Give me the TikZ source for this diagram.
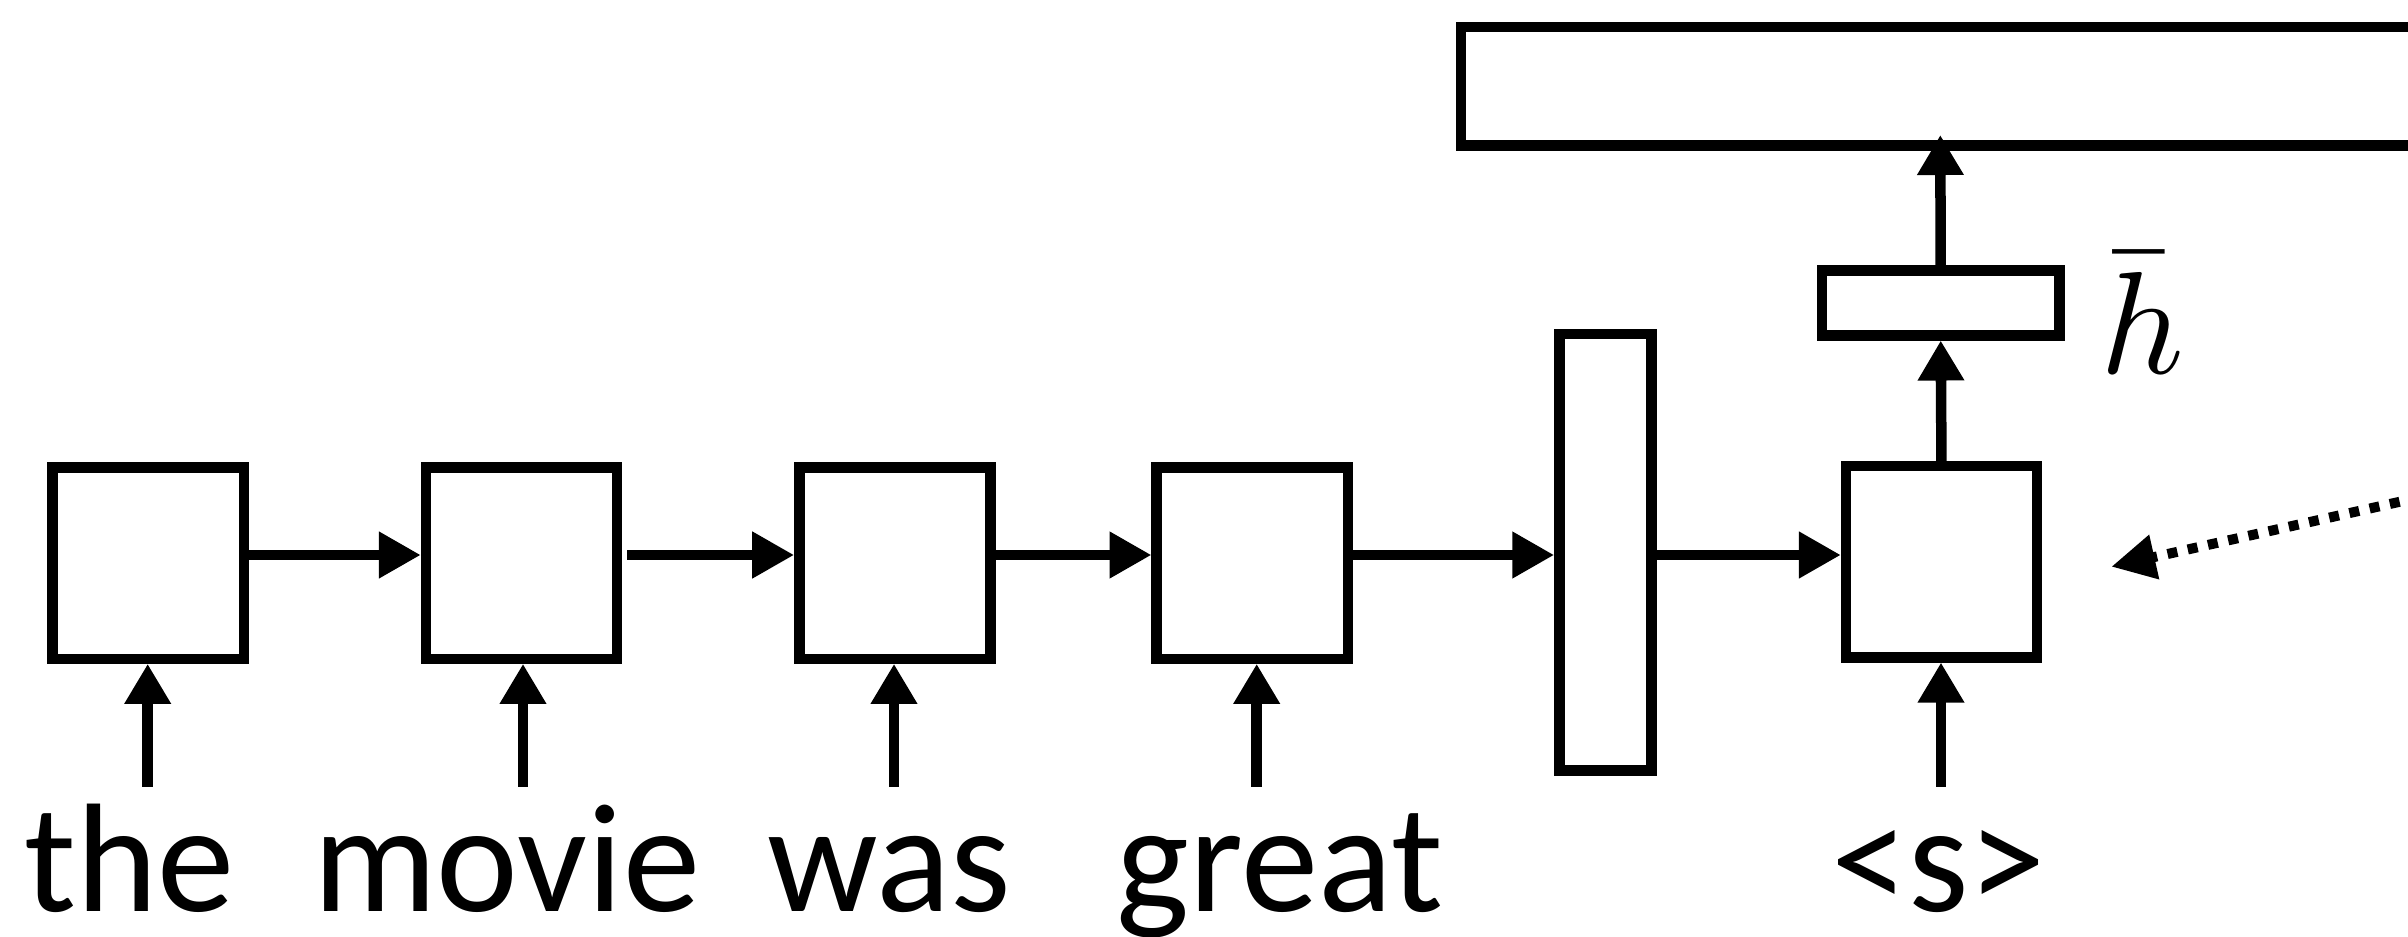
\documentclass[tikz,border=0pt]{standalone}
\usepackage{fontspec}
\setmainfont{Carlito}
\usetikzlibrary{arrows.meta}
\begin{document}
\begin{tikzpicture}[x=0.01cm,y=-0.01cm,
  box/.style={draw, line width=0.105cm, inner sep=0pt, outer sep=0pt},
  harr/.style={line width=0.105cm, -{Triangle[length=0.42cm,width=0.44cm]}, shorten >=0.05cm},
  varr/.style={line width=0.105cm, -{Triangle[length=0.40cm,width=0.44cm]}, shorten >=0.05cm},
  dotarr/.style={line width=0.1cm, dash pattern=on 0.1cm off 0.107cm, -{Triangle[length=0.44cm,width=0.43cm]}},
  word/.style={anchor=base, inner sep=0pt, font=\fontsize{44}{52}\selectfont}]
\useasboundingbox (0,0) rectangle (2408,937);
\clip (0,0) rectangle (2408,937);
% encoder boxes
\node[box, minimum width=1.912cm, minimum height=1.912cm] (b1) at (148.2,563.2) {};
\node[box, minimum width=1.912cm, minimum height=1.912cm] (b2) at (521.5,563.2) {};
\node[box, minimum width=1.912cm, minimum height=1.912cm] (b3) at (894.9,563.2) {};
\node[box, minimum width=1.912cm, minimum height=1.912cm] (b4) at (1252.2,563.2) {};
\node[box, minimum width=0.922cm, minimum height=4.362cm] (tall) at (1605.4,552.4) {};
\node[box, minimum width=1.911cm, minimum height=1.912cm] (dec) at (1941.5,561.9) {};
\node[box, minimum width=2.375cm, minimum height=0.652cm] (hb) at (1940.7,302.9) {};
\node[box, minimum width=10.987cm, minimum height=1.187cm] (top) at (2010.65,86.35) {};
% coordinates
\coordinate (row) at (0,555);
\coordinate (i1) at (147.7,786.7);
\coordinate (i2) at (523,786.7);
\coordinate (i3) at (894,786.7);
\coordinate (i4) at (1256.7,786.7);
\coordinate (i5) at (1941,786.7);
\coordinate (toptip) at (1940.3,135);
\coordinate (far) at (2440,492.7);
\coordinate (dtip) at (2111.3,566.7);
% recurrent arrows
\draw[harr] (b1.east |- row) -- (b2.west |- row);
\draw[harr, shorten <=0.103cm] (b2.east |- row) -- (b3.west |- row);
\draw[harr] (b3.east |- row) -- (b4.west |- row);
\draw[harr] (b4.east |- row) -- (tall.west |- row);
\draw[harr] (tall.east |- row) -- (dec.west |- row);
% input arrows
\draw[varr] (i1) -- (i1 |- b1.south);
\draw[varr] (i2) -- (i2 |- b2.south);
\draw[varr] (i3) -- (i3 |- b3.south);
\draw[varr] (i4) -- (i4 |- b4.south);
\draw[varr] (i5) -- (i5 |- dec.south);
% decoder upward arrows
\draw[varr] (dec.north) -- (hb.south);
\draw[varr, shorten >=0pt] (hb.north) -- (toptip);
% dotted arrow
\draw[dotarr] (far) -- (dtip);
% words
\node[word] (w1) at (129.5,911.7) {the};
\node[word] (w2) at (506.7,911.7) {movie};
\node[word] (w3) at (889.2,911.7) {was};
\node[word] (w4) at (1280,911.7) {great};
\node[word] (w5) at (1938.4,911.7) {<s>};
\node[anchor=base, inner sep=0pt] (hl) at (2142.5,374) {\scalebox{4.14}{$\bar{h}$}};
\end{tikzpicture}
\end{document}
